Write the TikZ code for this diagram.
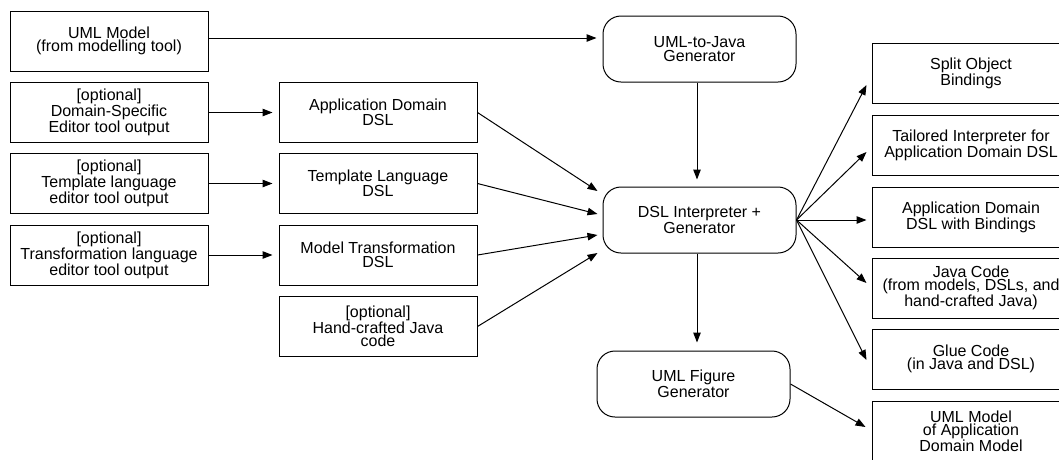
\documentclass[tikz,border=0pt]{standalone}
\usepackage{fontspec}
\setmainfont{Liberation Sans}
\usetikzlibrary{arrows.meta,calc}
\tikzset{
  box/.style={draw, line width=1pt, minimum width=198pt, minimum height=60pt,
    inner sep=0pt, align=center, font=\fontsize{16}{13.5}\selectfont},
  proc/.style={box, rounded corners=18pt, minimum width=193pt, minimum height=66pt},
  flow/.style={line width=1pt, -{Triangle[length=10pt,width=7.5pt]}},
}
\begin{document}
\begin{tikzpicture}[x=1pt,y=-1pt]
  \useasboundingbox (0,0) rectangle (1059,459);
  \clip (0,0) rectangle (1059,459);

  % inputs
  \node[box] (uml) at (109,41)   {UML Model\\(from modelling tool)};
  \node[box] (dse) at (109,112.5) {[optional]\\Domain-Specific\\Editor tool output};
  \node[box] (tle) at (109,183.5) {[optional]\\Template language\\editor tool output};
  \node[box] (tre) at (109,255)   {[optional]\\Transformation language\\editor tool output};

  % DSL sources
  \node[box] (app)  at (378,112.5) {Application Domain\\DSL};
  \node[box] (tpl)  at (378,183.5) {Template Language\\DSL};
  \node[box] (mtr)  at (378,255)   {Model Transformation\\DSL};
  \node[box] (hand) at (378,326.5) {[optional]\\Hand-crafted Java\\code};

  % generators
  \node[proc] (ujg) at (699.5,49)  {UML-to-Java\\Generator};
  \node[proc] (dsl) at (699.5,220) {DSL Interpreter +\\Generator};
  \node[proc] (ufg) at (693.5,384) {UML Figure\\Generator};

  % outputs
  \node[box] (r1) at (971,73.5) {Split Object\\Bindings};
  \node[box] (r2) at (971,145)  {Tailored Interpreter for\\Application Domain DSL};
  \node[box] (r3) at (971,217)  {Application Domain\\DSL with Bindings};
  \node[box] (r4) at (971,288)  {Java Code\\(from models, DSLs, and\\hand-crafted Java)};
  \node[box] (r5) at (971,359)  {Glue Code\\(in Java and DSL)};
  \node[box] (r6) at (971,431)  {UML Model\\of Application\\Domain Model};

  % connectors
  \draw[flow] ($(uml.east)+(0,-3)$) -- ($(ujg.west)+(-6,-11)$);
  \draw[flow, shorten >=6pt] (dse.east) -- (app.west);
  \draw[flow, shorten >=6pt] (tle.east) -- (tpl.west);
  \draw[flow, shorten >=6pt] (tre.east) -- (mtr.west);

  \draw[flow] (app.east)  -- ($(dsl.west)+(-5,-29)$);
  \draw[flow] (tpl.east)  -- ($(dsl.west)+(-5,-6)$);
  \draw[flow] (mtr.east)  -- ($(dsl.west)+(-5,15)$);
  \draw[flow] (hand.east) -- ($(dsl.west)+(-5,33)$);

  \coordinate (ujgbot) at ($(ujg.south)+(-2.5,0)$);
  \coordinate (dslbot) at ($(dsl.south)+(-2.5,0)$);
  \draw[flow, shorten >=7pt] (ujgbot) -- (ujgbot |- dsl.north);
  \draw[flow, shorten >=8pt] (dslbot) -- (dslbot |- ufg.north);

  \draw[flow] (dsl.east) -- ($(r1.west)+(-5,11.5)$);
  \draw[flow] (dsl.east) -- ($(r2.west)+(-5,7)$);
  \draw[flow] (dsl.east) -- ($(r3.west)+(-5,3)$);
  \draw[flow] (dsl.east) -- ($(r4.west)+(-5,-5)$);
  \draw[flow] (dsl.east) -- ($(r5.west)+(-5,1)$);
  \draw[flow] (ufg.east) -- ($(r6.west)+(-6,-4)$);
\end{tikzpicture}
\end{document}
